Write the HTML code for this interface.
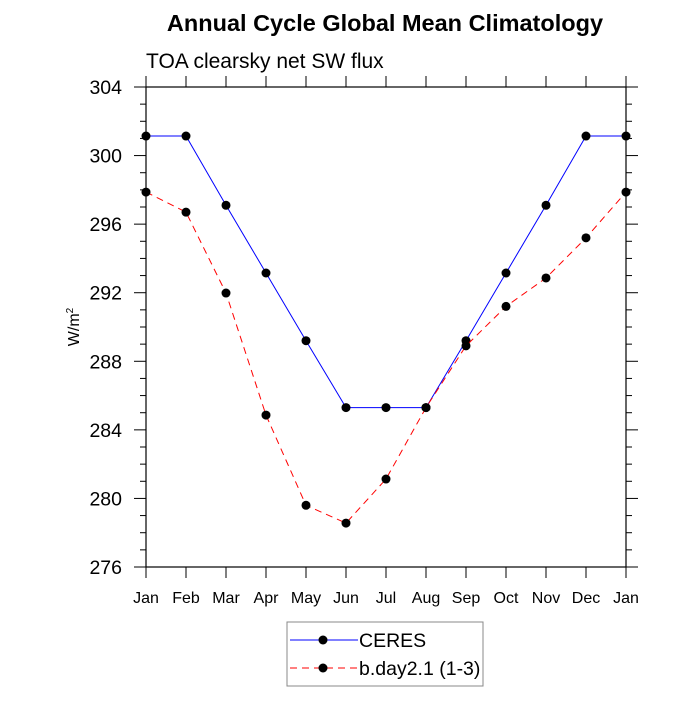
<!DOCTYPE html>
<html><head><meta charset="utf-8"><style>
body{margin:0;background:#fff}
svg text{font-family:"Liberation Sans",sans-serif}
</style></head><body>
<svg id="chart" width="700" height="700" xmlns="http://www.w3.org/2000/svg">
<text x="385" y="31" text-anchor="middle" font-size="23.5" font-weight="bold">Annual Cycle Global Mean Climatology</text>
<text x="146" y="68" font-size="21">TOA clearsky net SW flux</text>
<text transform="translate(79,327) rotate(-90)" text-anchor="middle" font-size="16">W/m<tspan font-size="10" dy="-6">2</tspan></text>
<g id="axes"></g>
<g id="series"></g>
<g>
<rect x="287" y="622" width="196" height="64" fill="#fff" stroke="#888" stroke-width="1"/>
<g>
<line x1="290" y1="640" x2="358" y2="640" stroke="#00f" stroke-width="1"/>
<circle cx="323" cy="640" r="4.5" fill="#000"/>
<text x="359" y="647" font-size="19.5">CERES</text></g>
<g>
<line x1="290" y1="668" x2="358" y2="668" stroke="#f00" stroke-width="1" stroke-dasharray="7,5"/>
<circle cx="323" cy="668" r="4.5" fill="#000"/>
<text x="359" y="675" font-size="19.5">b.day2.1 (1-3)</text></g>
</g>
</svg>
<script>
const months=["Jan","Feb","Mar","Apr","May","Jun","Jul","Aug","Sep","Oct","Nov","Dec","Jan"];
const ceres=[301.14,301.14,297.1,293.15,289.2,285.3,285.3,285.3,289.2,293.15,297.1,301.14,301.14];
const model=[297.87,296.7,291.98,284.86,279.6,278.56,281.13,285.3,288.9,291.2,292.86,295.2,297.87];
const yTicks=[276,280,284,288,292,296,300,304];
const L=146,R=626,T=87,B=567,yMin=276,yMax=304;
const NS="http://www.w3.org/2000/svg";
const xs=i=>L+(R-L)*i/(months.length-1);
const ys=v=>B-(v-yMin)/(yMax-yMin)*(B-T);
function mk(tag,attrs,parent){const e=document.createElementNS(NS,tag);for(const k in attrs)e.setAttribute(k,attrs[k]);parent.appendChild(e);return e;}
const ax=document.getElementById('axes');
const frame=mk('rect',{x:L,y:T,width:R-L,height:B-T,fill:'none',stroke:'#000','stroke-width':1.2},ax);


months.forEach((m,i)=>{const x=xs(i);
mk('line',{x1:x,y1:B,x2:x,y2:B+11,stroke:'#000'},ax);
mk('line',{x1:x,y1:T,x2:x,y2:T-11,stroke:'#000'},ax);
const t=mk('text',{x:x,y:B+36,'text-anchor':'middle','font-size':16},ax);t.textContent=m;

});
for(let v=yMin;v<=yMax;v+=1){const y=ys(v);const major=(v-yMin)%4===0;const len=major?12:6;
mk('line',{x1:L,y1:y,x2:L-len,y2:y,stroke:'#000'},ax);
mk('line',{x1:R,y1:y,x2:R+len,y2:y,stroke:'#000'},ax);}
yTicks.forEach(v=>{const t=mk('text',{x:L-24,y:ys(v)+7,'text-anchor':'end','font-size':19.5},ax);t.textContent=v;

});
const sg=document.getElementById('series');
function draw(vals,color,dash,name){const g=mk('g',{},sg);


mk('polyline',{points:vals.map((v,i)=>xs(i)+','+ys(v)).join(' '),fill:'none',stroke:color,'stroke-width':1,'stroke-dasharray':dash},g);
vals.forEach((v,i)=>{const c=mk('circle',{cx:xs(i),cy:ys(v),r:4.5,fill:'#000'},g);

});}
draw(ceres,'#00f','none','ceres-series');
draw(model,'#f00','7,5','model-series');
</script>
</body></html>
